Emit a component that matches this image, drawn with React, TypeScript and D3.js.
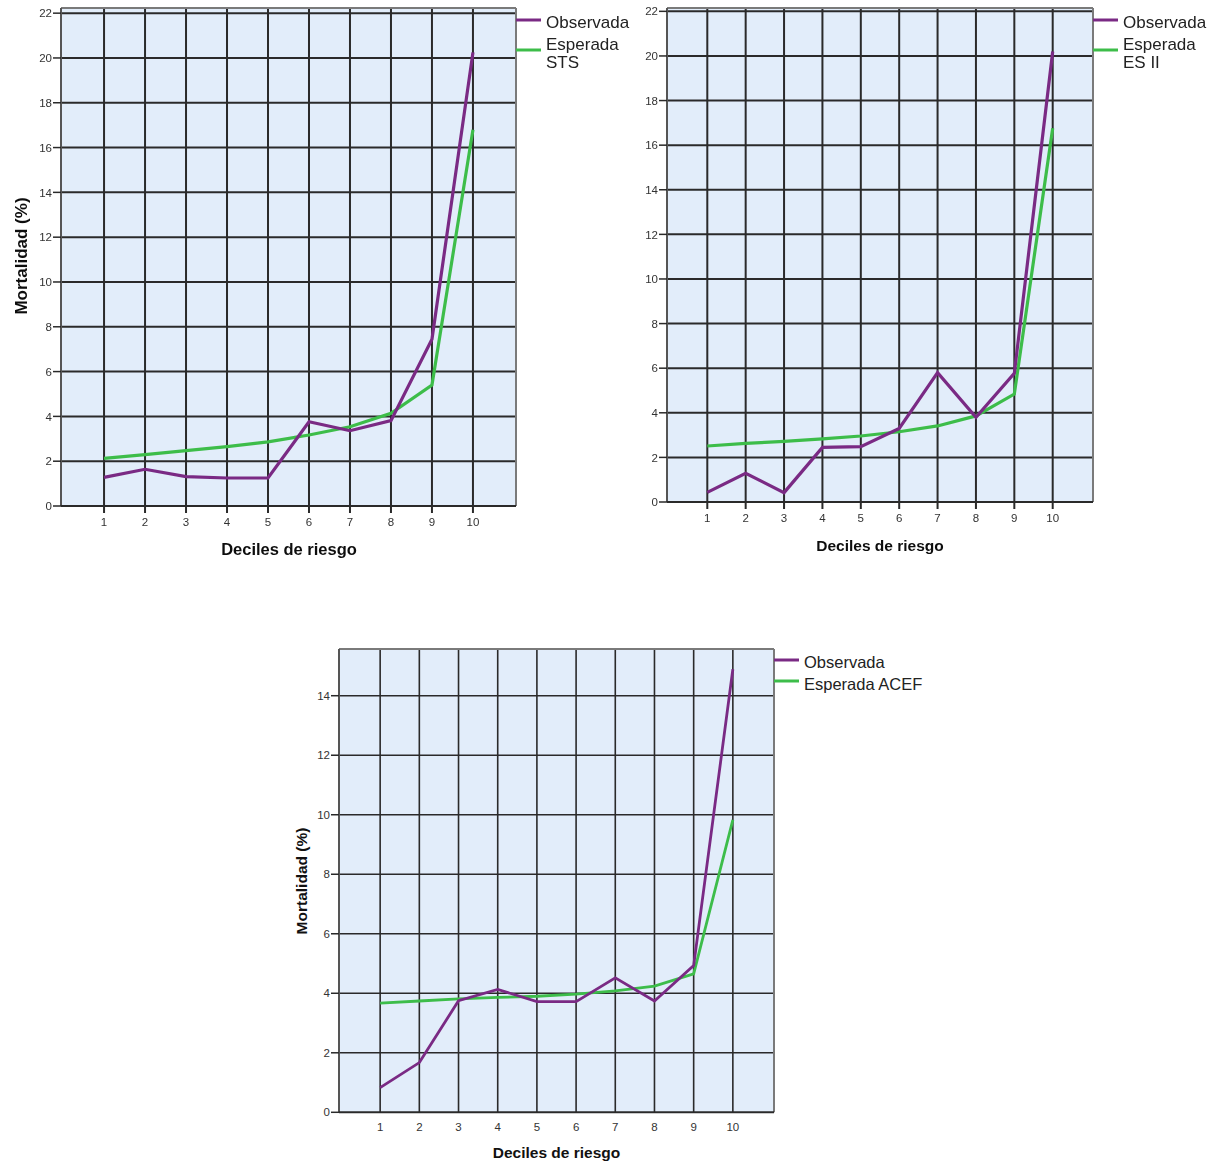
import React from "react";
import * as d3 from "d3";

// Risk deciles on the x axis
const deciles = [1, 2, 3, 4, 5, 6, 7, 8, 9, 10];

// Mortality (%) per decile: observed vs expected by each score
const stsObserved = [1.28, 1.64, 1.31, 1.25, 1.25, 3.76, 3.36, 3.81, 7.44, 20.25];
const stsExpected = [2.13, 2.29, 2.47, 2.65, 2.86, 3.17, 3.54, 4.14, 5.4, 16.8];

const es2Observed = [0.43, 1.29, 0.42, 2.45, 2.48, 3.3, 5.8, 3.8, 5.77, 20.2];
const es2Expected = [2.51, 2.63, 2.72, 2.83, 2.96, 3.15, 3.41, 3.86, 4.84, 16.76];

const acefObserved = [0.83, 1.67, 3.75, 4.13, 3.72, 3.72, 4.52, 3.74, 4.93, 14.89];
const acefExpected = [3.67, 3.74, 3.81, 3.86, 3.9, 3.97, 4.08, 4.24, 4.65, 9.83];

// Axis ticks
const yTicksWide = [0, 2, 4, 6, 8, 10, 12, 14, 16, 18, 20, 22];
const yTicksNarrow = [0, 2, 4, 6, 8, 10, 12, 14];

// Texts
const xTitle = "Deciles de riesgo";
const yTitle = "Mortalidad (%)";
const observedLabel = ["Observada"];
const stsLabel = ["Esperada", "STS"];
const es2Label = ["Esperada", "ES II"];
const acefLabel = ["Esperada ACEF"];

const PURPLE = "#7a2a84";
const GREEN = "#3dbd4a";
const BG = "#e2edfa";
const GRID = "#2a2a2a";
const FONT = "'Liberation Sans', Arial, Helvetica, sans-serif";

type PanelProps = {
  observed: number[];
  expected: number[];
  yTicks: number[];
  yTop: number;
  left: number;
  right: number;
  top: number;
  base: number;
  tickFont: number;
  xTickBaseline: number;
  xTicksBelow: boolean;
  lineWidth: number;
  gridWidth: number;
  xTitleX: number;
  xTitleY: number;
  xTitleSize: number;
  yTitleX?: number;
  yTitleY?: number;
  yTitleSize?: number;
  legendExpected: string[];
  legendFont: number;
  legendObsY: number;
  legendObsBaseline: number;
  legendExpY: number;
  legendExpBaseline: number;
  legendLineHeight: number;
  blur?: boolean;
};

function Panel(p: PanelProps) {
  const x = d3.scaleLinear().domain([-0.05, 11.05]).range([p.left, p.right]);
  const y = d3.scaleLinear().domain([0, p.yTop]).range([p.base, p.top]);
  const line = d3
    .line<number>()
    .x((_, i) => x(deciles[i]))
    .y((d) => y(d));

  const legendX = p.right;
  const textX = p.right + 30;

  return (
    <g filter={p.blur ? "url(#soft)" : undefined} fontFamily={FONT}>
      <rect x={p.left} y={p.top} width={p.right - p.left} height={p.base - p.top} fill={BG} />
      {/* horizontal grid */}
      {p.yTicks.filter((t) => t > 0).map((t) => (
        <line key={"h" + t} x1={p.left} x2={p.right} y1={y(t)} y2={y(t)} stroke={GRID} strokeWidth={p.gridWidth} />
      ))}
      {/* vertical grid */}
      {deciles.map((d) => (
        <line
          key={"v" + d}
          x1={x(d)}
          x2={x(d)}
          y1={p.top}
          y2={p.xTicksBelow ? p.base + 7 : p.base}
          stroke={GRID}
          strokeWidth={p.gridWidth}
        />
      ))}
      {/* frame */}
      <line x1={p.left} x2={p.right} y1={p.top} y2={p.top} stroke="#7a7a7a" strokeWidth={2} />
      <line x1={p.right} x2={p.right} y1={p.top} y2={p.base} stroke="#7a7a7a" strokeWidth={2} />
      <line x1={p.left} x2={p.left} y1={p.top} y2={p.base} stroke="#555" strokeWidth={2} />
      <line x1={p.left} x2={p.right} y1={p.base} y2={p.base} stroke={GRID} strokeWidth={2} />
      {/* y ticks */}
      {p.yTicks.map((t) => (
        <g key={"yt" + t}>
          <line x1={p.left - 8} x2={p.left} y1={y(t)} y2={y(t)} stroke={GRID} strokeWidth={1.5} />
          <text x={p.left - 9} y={y(t)} dy="0.36em" textAnchor="end" fontSize={p.tickFont} fill="#333">
            {t}
          </text>
        </g>
      ))}
      {/* x tick labels */}
      {deciles.map((d) => (
        <text key={"xt" + d} x={x(d)} y={p.xTickBaseline} textAnchor="middle" fontSize={p.tickFont} fill="#333">
          {d}
        </text>
      ))}
      {/* series */}
      <path d={line(p.expected) || ""} fill="none" stroke={GREEN} strokeWidth={p.lineWidth} strokeLinejoin="miter" />
      <path d={line(p.observed) || ""} fill="none" stroke={PURPLE} strokeWidth={p.lineWidth} strokeLinejoin="miter" />
      {/* axis titles */}
      <text x={p.xTitleX} y={p.xTitleY} textAnchor="middle" fontWeight="bold" fontSize={p.xTitleSize} fill="#111">
        {xTitle}
      </text>
      {p.yTitleX !== undefined && (
        <text
          transform={`translate(${p.yTitleX},${p.yTitleY}) rotate(-90)`}
          textAnchor="middle"
          fontWeight="bold"
          fontSize={p.yTitleSize}
          fill="#111"
        >
          {yTitle}
        </text>
      )}
      {/* legend */}
      <line x1={legendX} x2={legendX + 25} y1={p.legendObsY} y2={p.legendObsY} stroke={PURPLE} strokeWidth={3} />
      <text x={textX} y={p.legendObsBaseline} fontSize={p.legendFont} fill="#222">
        {observedLabel[0]}
      </text>
      <line x1={legendX} x2={legendX + 25} y1={p.legendExpY} y2={p.legendExpY} stroke={GREEN} strokeWidth={3} />
      {p.legendExpected.map((s, i) => (
        <text key={s} x={textX} y={p.legendExpBaseline + i * p.legendLineHeight} fontSize={p.legendFont} fill="#222">
          {s}
        </text>
      ))}
    </g>
  );
}

export default function App() {
  return (
    <svg
      width={1209}
      height={1164}
      style={{ position: "absolute", left: 0, top: 0, background: "#fff" }}
    >
      <defs>
        <filter id="soft" x="-5%" y="-5%" width="110%" height="110%">
          <feGaussianBlur stdDeviation={0.55} />
        </filter>
      </defs>
      <Panel
        observed={stsObserved}
        expected={stsExpected}
        yTicks={yTicksWide}
        yTop={22.23}
        left={61}
        right={516}
        top={8}
        base={506}
        tickFont={11.5}
        xTickBaseline={526}
        xTicksBelow={true}
        lineWidth={3.2}
        gridWidth={2}
        xTitleX={289}
        xTitleY={555}
        xTitleSize={16.5}
        yTitleX={27}
        yTitleY={256}
        yTitleSize={17}
        legendExpected={stsLabel}
        legendFont={17}
        legendObsY={20}
        legendObsBaseline={28}
        legendExpY={50}
        legendExpBaseline={50}
        legendLineHeight={18}
        blur={true}
      />
      <Panel
        observed={es2Observed}
        expected={es2Expected}
        yTicks={yTicksWide}
        yTop={22.15}
        left={667}
        right={1093}
        top={8}
        base={502}
        tickFont={11.5}
        xTickBaseline={522}
        xTicksBelow={true}
        lineWidth={3.2}
        gridWidth={2}
        xTitleX={880}
        xTitleY={551}
        xTitleSize={15.5}
        legendExpected={es2Label}
        legendFont={17}
        legendObsY={20}
        legendObsBaseline={28}
        legendExpY={50}
        legendExpBaseline={50}
        legendLineHeight={18}
        blur={true}
      />
      <Panel
        observed={acefObserved}
        expected={acefExpected}
        yTicks={yTicksNarrow}
        yTop={15.57}
        left={339}
        right={774}
        top={649}
        base={1112.3}
        tickFont={11.5}
        xTickBaseline={1131}
        xTicksBelow={false}
        lineWidth={2.8}
        gridWidth={1.6}
        xTitleX={556.5}
        xTitleY={1157.5}
        xTitleSize={15.5}
        yTitleX={307}
        yTitleY={881}
        yTitleSize={15.5}
        legendExpected={acefLabel}
        legendFont={16.5}
        legendObsY={660}
        legendObsBaseline={668}
        legendExpY={681}
        legendExpBaseline={690}
        legendLineHeight={18}
      />
    </svg>
  );
}
